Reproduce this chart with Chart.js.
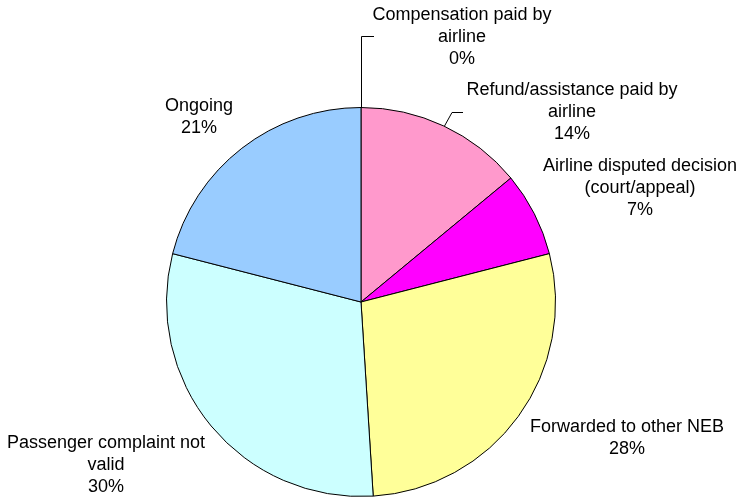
<!DOCTYPE html>
<html>
<head>
<meta charset="utf-8">
<script src="https://cdn.jsdelivr.net/npm/chart.js@4"></script>
<style>
  html, body { margin: 0; padding: 0; background: #fff; }
  canvas { display: block; }
</style>
</head>
<body>
<canvas id="myChart" width="738" height="501"></canvas>
<script>
// datos del gráfico
const categorias = [
  ['Compensation paid by', 'airline'],
  ['Refund/assistance paid by', 'airline'],
  ['Airline disputed decision', '(court/appeal)'],
  ['Forwarded to other NEB'],
  ['Passenger complaint not', 'valid'],
  ['Ongoing']
];
const valores = [0, 14, 7, 28, 30, 21];
const colores = ['#FFFFFF', '#FF99CC', '#FF00FF', '#FFFF99', '#CCFFFF', '#99CCFF'];

// posición de las etiquetas (centro x, centro y de la primera línea)
const posEtiquetas = [[462, 15], [572, 90], [640, 166], [627, 427], [106, 443], [199, 106]];
// fin de las líneas guía (null = sin línea)
const guias = [
  { codo: [0, 36], fin: [374, 36] },
  { codo: null, fin: [452, 112], fin2: [463, 112] },
  null, null, null, null
];

const total = valores.reduce((a, b) => a + b, 0);
const FUENTE = '18px "Liberation Sans", Arial, sans-serif';
const ALTO_LINEA = 22;

const etiquetasPlugin = {
  id: 'etiquetas',
  afterDraw(chart) {
    const ctx = chart.ctx;
    const meta = chart.getDatasetMeta(0);
    ctx.save();
    ctx.font = FUENTE;
    ctx.fillStyle = '#000';
    ctx.textAlign = 'center';
    ctx.textBaseline = 'middle';
    ctx.strokeStyle = '#000';
    ctx.lineWidth = 1;
    meta.data.forEach((arco, i) => {
      const lineas = categorias[i].concat([Math.round(valores[i] / total * 100) + '%']);
      const [x, y] = posEtiquetas[i];
      lineas.forEach((t, j) => ctx.fillText(t, x, y + j * ALTO_LINEA));

      const g = guias[i];
      if (g) {
        const ang = (arco.startAngle + arco.endAngle) / 2;
        const px = arco.x + Math.cos(ang) * arco.outerRadius;
        const py = arco.y + Math.sin(ang) * arco.outerRadius;
        ctx.beginPath();
        ctx.moveTo(Math.round(px) + 0.5, py);
        if (g.codo) {
          ctx.lineTo(Math.round(px) + 0.5, g.codo[1] + 0.5);
          ctx.lineTo(g.fin[0], g.codo[1] + 0.5);
        } else {
          ctx.lineTo(g.fin[0], g.fin[1] + 0.5);
          ctx.lineTo(g.fin2[0], g.fin2[1] + 0.5);
        }
        ctx.stroke();
      }
    });
    ctx.restore();
  }
};

new Chart(document.getElementById('myChart'), {
  type: 'pie',
  data: {
    labels: categorias.map(c => c.join(' ')),
    datasets: [{
      data: valores,
      backgroundColor: colores,
      borderColor: '#000',
      borderWidth: 1
    }]
  },
  options: {
    responsive: false,
    animation: false,
    layout: { padding: { top: 107, bottom: 4, left: 166, right: 182 } },
    plugins: {
      legend: { display: false },
      tooltip: { enabled: false }
    }
  },
  plugins: [etiquetasPlugin]
});
</script>
</body>
</html>
